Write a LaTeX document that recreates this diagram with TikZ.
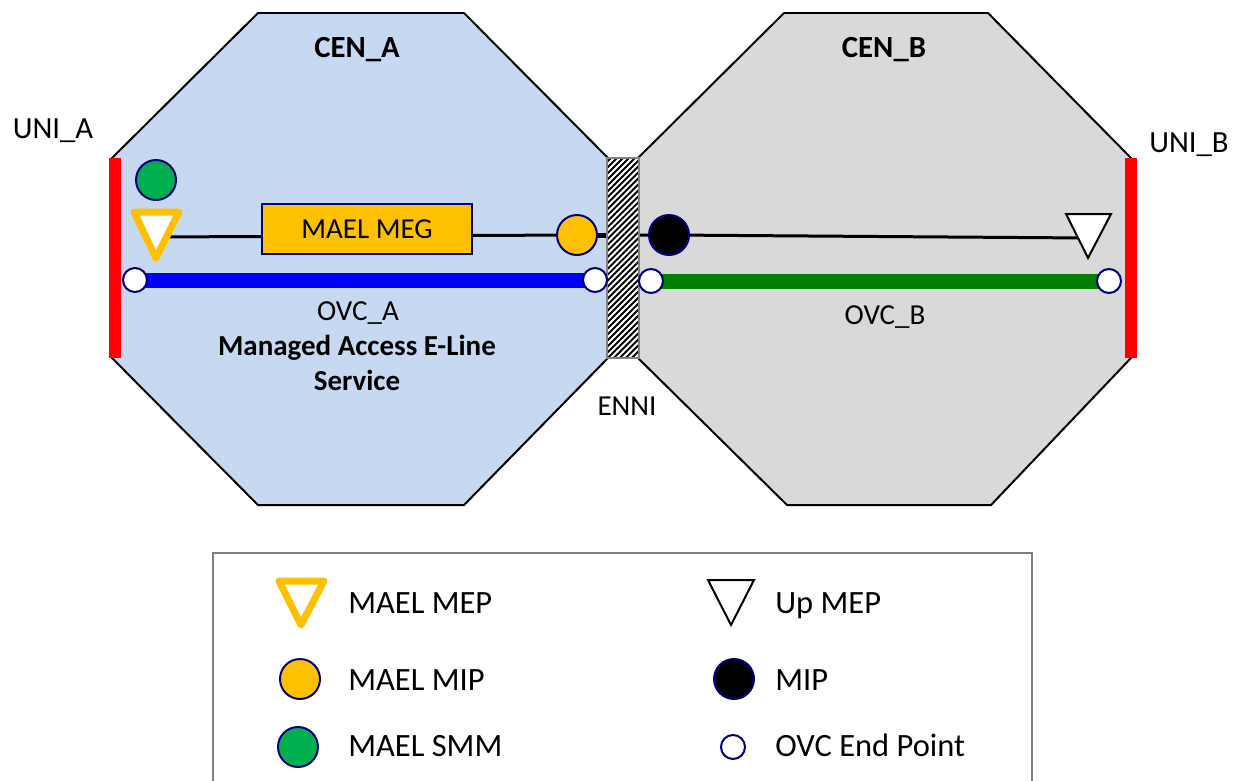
\documentclass[tikz,border=0pt]{standalone}
\usepackage{fontspec}
\setmainfont{Carlito}
\usetikzlibrary{patterns.meta}

\definecolor{cenAfill}{RGB}{198,217,240}
\definecolor{cenBfill}{RGB}{217,217,217}
\definecolor{maelorange}{RGB}{255,192,0}
\definecolor{smmgreen}{RGB}{0,176,80}
\definecolor{ovcblue}{RGB}{0,0,255}
\definecolor{ovcgreen}{RGB}{0,128,0}
\definecolor{unired}{RGB}{255,0,0}
\definecolor{edgenavy}{RGB}{0,0,128}
\definecolor{legendgray}{RGB}{127,127,127}

\pgfdeclarelayer{cens}
\pgfdeclarelayer{lines}
\pgfsetlayers{cens,lines,main}

\tikzset{
  cen/.style={draw=black, line width=0.04cm},
  point/.style={circle, draw=edgenavy, line width=0.04cm, minimum size=0.8cm, inner sep=0pt},
  endpoint/.style={circle, draw=edgenavy, fill=white, line width=0.04cm, minimum size=0.48cm, inner sep=0pt},
  ovc/.style={line width=0.30cm},
  megline/.style={line width=0.06cm},
  megbox/.style={draw=edgenavy, fill=maelorange, line width=0.04cm, minimum width=4.22cm, minimum height=1cm},
  maelmep/.style={draw=maelorange, fill=white, line width=0.14cm, line join=round},
  upmep/.style={draw=black, fill=white, line width=0.04cm},
  txt/.style={anchor=base, inner sep=0pt, font=\fontsize{16.5}{20}\selectfont},
  headtxt/.style={anchor=base, inner sep=0pt, font=\fontsize{17.5}{21}\selectfont},
  lgtxt/.style={anchor=base west, inner sep=0pt, font=\fontsize{18.5}{22}\selectfont},
}

\begin{document}
\begin{tikzpicture}[x=0.02cm, y=-0.02cm]
\useasboundingbox (0,0) rectangle (1238,781);

% Drawing CEN_A and CEN_B octagons
\begin{pgfonlayer}{cens}
\draw[cen, fill=cenAfill] (258,13) -- (464,13) -- (608,158) -- (608,358) -- (464,505) -- (258,505) -- (112,358) -- (112,158) -- cycle;
\draw[cen, fill=cenBfill] (784,13) -- (988,13) -- (1131,158) -- (1131,358) -- (991,505) -- (787,505) -- (638,358) -- (638,158) -- cycle;
\end{pgfonlayer}

% Marking ENNI
\node[draw=gray, line width=0.04cm, minimum width=0.64cm, minimum height=4cm, inner sep=0pt,
      preaction={fill=white}, pattern={Lines[angle=45,distance=2.4pt,line width=1.1pt]}, pattern color=black] (enni) at (623,258) {};
\node[txt] (enniLbl) at (627,415) {ENNI};

% Marking UNI bars
\fill[unired] (109,158) rectangle (121,358);
\fill[unired] (1125,158) rectangle (1137,358);
\node[headtxt] (uniA) at (53,138) {UNI\_A};
\node[headtxt] (uniB) at (1189,152) {UNI\_B};

% Marking CEN names
\node[headtxt] (cenA) at (357,57) {\textbf{CEN\_A}};
\node[headtxt] (cenB) at (884,57) {\textbf{CEN\_B}};

% Marking OVC end points
\node[endpoint] (ovcA1) at (135,280) {};
\node[endpoint] (ovcA2) at (595,280) {};
\node[endpoint] (ovcB1) at (651,281) {};
\node[endpoint] (ovcB2) at (1109,281) {};

% Marking MEG, MIPs and SMM
\node[megbox] (meg) at (367,229) {\fontsize{16.5}{20}\selectfont MAEL MEG};
\node[point, fill=maelorange] (mipA) at (577,235) {};
\node[point, fill=black] (mipB) at (669,235) {};
\node[point, fill=smmgreen] (smmA) at (156,180) {};

% Marking MEP triangles
\coordinate (mepA) at (156,237);
\draw[maelmep] (134,212) -- (179,212) -- (156,258) -- cycle;
\coordinate (upmepB) at (1088,238);
\draw[upmep] (1066,214) -- (1111,214) -- (1088,258) -- cycle;

% Drawing OVC and MEG lines
\begin{pgfonlayer}{lines}
\draw[ovc, ovcblue] (ovcA1.center) -- (ovcA2.center);
\draw[ovc, ovcgreen] (ovcB1.center) -- (ovcB2.center);
\draw[megline] (mepA) -- (mipA.center);
\draw[line width=0.10cm] (mipA.center) -- (mipA -| enni.west);
\draw[megline] (mipB -| enni.east) -- (mipB.center) -- (upmepB);
\end{pgfonlayer}

% Marking OVC names
\node[txt] (ovcAlbl) at (358,320) {OVC\_A};
\node[txt] (svcA1) at (357,355) {\textbf{Managed Access E-Line}};
\node[txt] (svcA2) at (357,390) {\textbf{Service}};
\node[txt] (ovcBlbl) at (885,324) {OVC\_B};

% Drawing legend
\draw[legendgray, line width=0.05cm] (213,553) rectangle (1032,800);
\draw[maelmep] (279,581) -- (324,581) -- (301,625) -- cycle;
\node[lgtxt] (lgMaelMep) at (348,613) {MAEL MEP};
\draw[upmep] (708,580) -- (754,580) -- (731,625) -- cycle;
\node[lgtxt] (lgUpMep) at (775,613) {Up MEP};
\node[point, fill=maelorange] (lgMaelMipDot) at (300,679) {};
\node[lgtxt] (lgMaelMip) at (348,690) {MAEL MIP};
\node[point, fill=black] (lgMipDot) at (734,679) {};
\node[lgtxt] (lgMip) at (775,690) {MIP};
\node[point, fill=smmgreen] (lgSmmDot) at (298,747) {};
\node[lgtxt] (lgSmm) at (348,756) {MAEL SMM};
\node[endpoint] (lgOvcDot) at (733,747) {};
\node[lgtxt] (lgOvc) at (775,756) {OVC End Point};
\end{tikzpicture}
\end{document}
